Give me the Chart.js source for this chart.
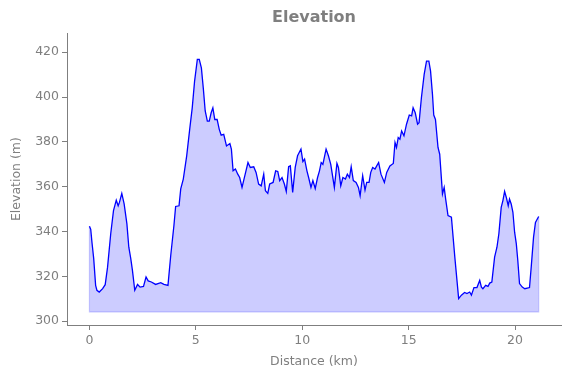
<!DOCTYPE html>
<html>
<head>
<meta charset="utf-8">
<script src="https://cdn.jsdelivr.net/npm/chart.js@4/dist/chart.umd.min.js"></script>
<style>
  html, body { margin: 0; padding: 0; background: #fff; }
  #wrap { width: 571px; height: 378px; }
</style>
</head>
<body>
<div id="wrap"><canvas id="elevationChart"></canvas></div>
<script>
//#region Data
const distKm = [
    0.00, 0.06, 0.12, 0.20, 0.29, 0.35, 0.46, 0.62, 0.74, 0.85,
    1.00, 1.13, 1.26, 1.35, 1.41, 1.52, 1.63, 1.76, 1.85, 1.94,
    2.02, 2.13, 2.26, 2.38, 2.54, 2.66, 2.76, 2.91, 3.11, 3.35,
    3.50, 3.69, 3.82, 3.97, 4.05, 4.21, 4.29, 4.41, 4.57, 4.72,
    4.83, 4.94, 5.07, 5.16, 5.26, 5.35, 5.44, 5.54, 5.63, 5.72,
    5.80, 5.89, 6.00, 6.10, 6.19, 6.31, 6.44, 6.60, 6.67, 6.75,
    6.86, 6.97, 7.06, 7.17, 7.28, 7.45, 7.56, 7.72, 7.83, 7.95,
    8.07, 8.19, 8.27, 8.38, 8.47, 8.63, 8.75, 8.85, 8.94, 9.05,
    9.16, 9.25, 9.36, 9.44, 9.55, 9.67, 9.78, 9.94, 10.03, 10.11,
    10.22, 10.30, 10.41, 10.50, 10.61, 10.72, 10.81, 10.89, 10.97, 11.12,
    11.23, 11.34, 11.51, 11.63, 11.70, 11.81, 11.91, 12.03, 12.12, 12.22,
    12.30, 12.40, 12.53, 12.64, 12.72, 12.84, 12.95, 13.03, 13.14, 13.22,
    13.31, 13.42, 13.50, 13.59, 13.70, 13.86, 13.97, 14.12, 14.28, 14.36,
    14.43, 14.51, 14.59, 14.67, 14.78, 14.90, 15.03, 15.14, 15.21, 15.31,
    15.42, 15.49, 15.60, 15.73, 15.84, 15.95, 16.03, 16.12, 16.18, 16.26,
    16.38, 16.46, 16.59, 16.67, 16.74, 16.85, 17.01, 17.17, 17.35, 17.48,
    17.63, 17.74, 17.87, 17.95, 18.07, 18.21, 18.34, 18.42, 18.49, 18.62,
    18.73, 18.81, 18.91, 19.04, 19.15, 19.24, 19.35, 19.43, 19.51, 19.59,
    19.68, 19.74, 19.82, 19.90, 19.98, 20.06, 20.13, 20.21, 20.34, 20.46,
    20.68, 20.76, 20.87, 20.96, 21.11
];
const elevM = [
    342.4, 341.0, 335.0, 327.9, 316.0, 313.8, 313.0, 314.5, 316.3, 324.0,
    339.0, 349.3, 354.0, 351.5, 353.0, 357.0, 352.3, 343.4, 333.0, 328.0,
    322.7, 313.8, 316.4, 315.2, 315.5, 319.7, 318.0, 317.5, 316.4, 317.2,
    316.4, 316.0, 329.3, 342.7, 351.2, 351.5, 359.0, 363.4, 373.8, 386.4,
    395.2, 407.0, 416.8, 416.8, 413.0, 404.0, 393.8, 389.3, 389.3, 393.0,
    395.2, 390.0, 390.0, 385.6, 383.0, 383.4, 378.2, 379.3, 376.8, 367.1,
    367.9, 365.6, 364.1, 359.7, 364.1, 370.8, 368.6, 368.9, 366.4, 361.2,
    360.4, 365.6, 358.2, 357.0, 361.2, 361.9, 367.1, 366.8, 362.7, 364.1,
    361.2, 357.9, 368.9, 369.3, 357.5, 368.6, 373.8, 376.8, 371.2, 372.3,
    367.1, 364.1, 359.7, 362.7, 359.2, 364.1, 367.1, 370.8, 370.0, 376.8,
    373.8, 370.0, 359.7, 370.4, 368.6, 360.4, 364.1, 363.4, 365.6, 364.1,
    368.9, 362.7, 361.9, 359.7, 356.0, 364.9, 358.5, 361.9, 361.9, 366.4,
    368.6, 367.9, 369.3, 370.8, 365.6, 361.9, 366.4, 369.3, 370.4, 379.7,
    377.5, 381.9, 381.2, 384.9, 382.7, 387.9, 392.0, 391.6, 395.2, 393.0,
    387.9, 388.6, 399.7, 410.1, 416.0, 416.0, 411.6, 401.2, 392.0, 390.0,
    377.5, 374.5, 356.8, 359.7, 354.5, 347.1, 346.4, 328.6, 310.1, 311.6,
    312.8, 312.3, 313.0, 311.6, 315.0, 315.0, 318.2, 315.2, 314.5, 316.0,
    315.5, 317.0, 317.5, 328.6, 333.0, 339.0, 350.8, 353.8, 357.9, 355.2,
    351.5, 354.5, 352.3, 348.6, 339.7, 334.5, 327.1, 316.8, 315.2, 314.5,
    315.0, 324.1, 337.5, 344.1, 346.7
];
const fillBase = 304.2;
const yTicks = [300, 320, 340, 360, 380, 400, 420];
const xTicks = [0, 5, 10, 15, 20];
//#endregion

//#region Load Elevation Chart
const grey = "#7f7f7f";
const font = "'DejaVu Sans', sans-serif";

function LoadElevationChart() {
    const element = document.querySelector("#elevationChart");
    const profile = distKm.map((d, i) => ({ x: d, y: elevM[i] }));
    const last = distKm.length - 1;
    const outline = [
        { x: distKm[0], y: elevM[0] },
        { x: distKm[0], y: fillBase },
        { x: distKm[last], y: fillBase },
        { x: distKm[last], y: elevM[last] }
    ];

    new Chart(element, {
        type: "line",
        data: {
            datasets: [{
                data: outline,
                borderColor: "rgba(0,0,255,0.22)",
                borderWidth: 1.2,
                pointRadius: 0,
                fill: false,
                tension: 0
            }, {
                data: profile,
                borderColor: "#0000ff",
                borderWidth: 1.3,
                backgroundColor: "rgba(0,0,255,0.2)",
                fill: { value: fillBase },
                pointRadius: 0,
                tension: 0
            }]
        },
        options: {
            responsive: true,
            maintainAspectRatio: false,
            animation: false,
            layout: { padding: { left: 0, right: 10, top: 0, bottom: 0 } },
            plugins: {
                legend: { display: false },
                tooltip: { enabled: false },
                title: {
                    display: true,
                    fullSize: false,
                    text: "Elevation",
                    color: grey,
                    font: { family: font, size: 16, weight: "bold" },
                    padding: { top: 8, bottom: 6 }
                }
            },
            scales: {
                x: {
                    type: "linear",
                    min: -1.055,
                    max: 22.16,
                    afterBuildTicks: (scale) => { scale.ticks = xTicks.map(v => ({ value: v })); },
                    afterFit: (scale) => { scale.height = 53; },
                    grid: { display: true, drawOnChartArea: false, drawTicks: true, tickLength: 5, color: grey },
                    border: { display: true, color: grey, width: 1 },
                    ticks: { color: grey, font: { family: font, size: 12.5 }, padding: 3, maxRotation: 0 },
                    title: {
                        display: true,
                        text: "Distance (km)",
                        color: grey,
                        font: { family: font, size: 12.5 },
                        padding: { top: 2, bottom: 9 }
                    }
                },
                y: {
                    min: 298.3,
                    max: 428.5,
                    afterBuildTicks: (scale) => { scale.ticks = yTicks.map(v => ({ value: v })); },
                    afterFit: (scale) => { scale.width = 67; },
                    grid: { display: true, drawOnChartArea: false, drawTicks: true, tickLength: 5, color: grey },
                    border: { display: true, color: grey, width: 1 },
                    ticks: { color: grey, font: { family: font, size: 12.5 }, padding: 3 },
                    title: {
                        display: true,
                        text: "Elevation (m)",
                        color: grey,
                        font: { family: font, size: 12.5 },
                        padding: { top: 9, bottom: 0 }
                    }
                }
            }
        }
    });
}
//#endregion

window.addEventListener("DOMContentLoaded", () => {
    LoadElevationChart();
});
</script>
</body>
</html>
